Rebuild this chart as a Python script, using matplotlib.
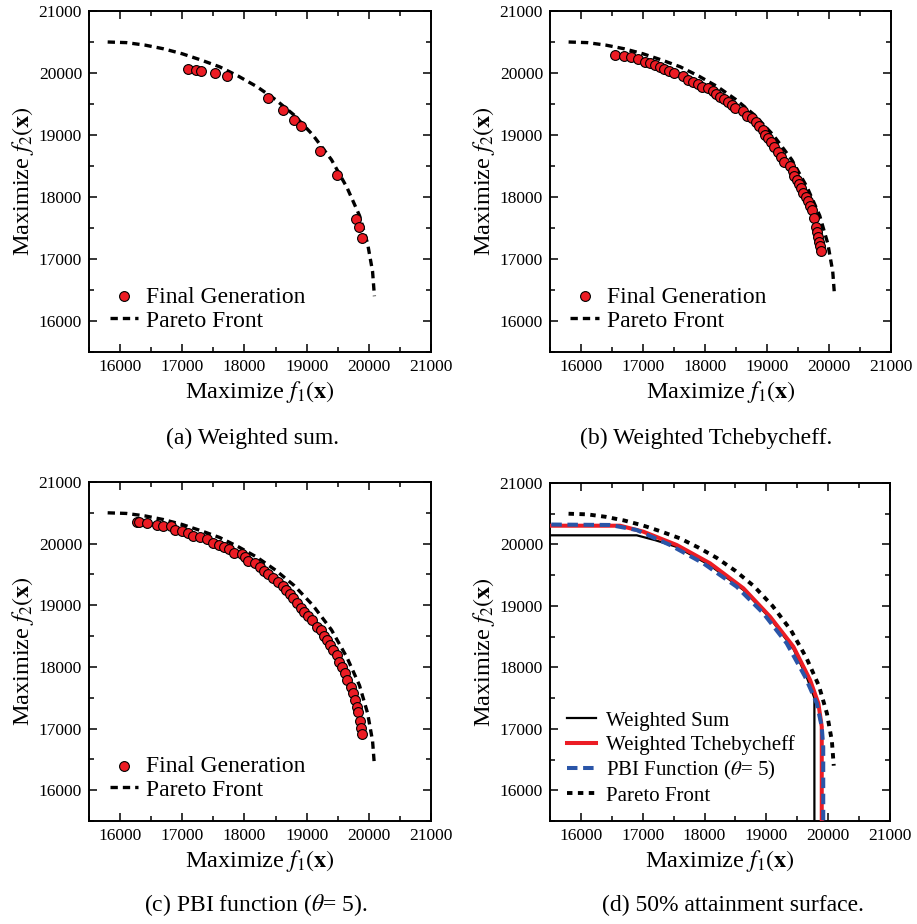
import matplotlib
matplotlib.use("Agg")
import matplotlib.pyplot as plt
from matplotlib.ticker import MultipleLocator

plt.rcParams['font.family'] = ['Liberation Serif', 'DejaVu Serif']
plt.rcParams['mathtext.fontset'] = 'stix'

# pareto front
pf_f1 = [15800, 16100, 16400, 16700, 17000, 17300, 17600, 17900, 18200, 18500,
         18800, 19100, 19400, 19650, 19850, 19980, 20060, 20090]
pf_f2 = [20500, 20490, 20450, 20390, 20310, 20210, 20100, 19950, 19780, 19570,
         19320, 19000, 18600, 18150, 17700, 17250, 16800, 16400]

# (a) weighted sum, final generation
ws_f1 = [17087, 17220, 17296, 17526, 17724, 18373, 18624, 18802, 18915, 19214,
         19483, 19789, 19837, 19885]
ws_f2 = [20060, 20043, 20037, 19995, 19957, 19592, 19403, 19242, 19145, 18747,
         18350, 17645, 17516, 17339]

# (b) weighted tchebycheff, final generation
tch_f1 = [16554, 16699, 16807, 16925, 17032, 17113, 17194, 17274, 17344, 17419,
          17495, 17650, 17731, 17801, 17882, 17947, 18043, 18134, 18178, 18242,
          18307, 18376, 18431, 18489, 18618, 18683, 18754, 18823, 18877, 18931,
          18968, 19022, 19065, 19118, 19183, 19226, 19280, 19371, 19415, 19441,
          19479, 19511, 19549, 19586, 19629, 19667, 19694, 19721, 19764, 19786,
          19802, 19828, 19844, 19855, 19876]
tch_f2 = [20285, 20274, 20253, 20226, 20182, 20156, 20124, 20092, 20064, 20032,
          20005, 19947, 19887, 19855, 19817, 19779, 19753, 19714, 19656, 19618,
          19580, 19527, 19484, 19430, 19386, 19306, 19268, 19204, 19145, 19080,
          19000, 18947, 18892, 18811, 18731, 18650, 18569, 18505, 18419, 18344,
          18274, 18205, 18140, 18069, 18005, 17935, 17860, 17790, 17666, 17521,
          17440, 17360, 17279, 17209, 17134]

# (c) PBI, final generation
pbi_f1 = [16267, 16304, 16426, 16587, 16695, 16819, 16883, 16990, 17097, 17178,
          17285, 17393, 17499, 17596, 17676, 17757, 17832, 17955, 18009, 18063,
          18170, 18250, 18314, 18384, 18464, 18544, 18615, 18668, 18732, 18786,
          18840, 18903, 18962, 19015, 19090, 19160, 19224, 19283, 19321, 19375,
          19428, 19483, 19525, 19574, 19616, 19653, 19708, 19751, 19778, 19805,
          19831, 19858, 19874, 19890]
pbi_f2 = [20346, 20346, 20330, 20303, 20292, 20286, 20221, 20205, 20168, 20129,
          20103, 20075, 20015, 19983, 19950, 19908, 19853, 19827, 19789, 19724,
          19681, 19616, 19556, 19503, 19438, 19373, 19318, 19248, 19178, 19113,
          19033, 18961, 18896, 18826, 18762, 18653, 18600, 18507, 18437, 18356,
          18275, 18194, 18085, 17994, 17897, 17789, 17680, 17573, 17464, 17356,
          17264, 17124, 17005, 16913]

# (d) 50% attainment surfaces
att_ws_f1 = [15000, 16903, 17200, 17550, 18089, 18628, 19060, 19437, 19650, 19777, 19777]
att_ws_f2 = [20149, 20149, 20070, 19960, 19660, 19260, 18800, 18300, 17850, 17500, 15000]
att_tch_f1 = [15000, 16633, 17010, 17550, 18089, 18628, 19060, 19437, 19707, 19841, 19896, 19896]
att_tch_f2 = [20305, 20305, 20208, 19991, 19693, 19287, 18825, 18337, 17795, 17416, 17035, 15000]
att_pbi_f1 = [15000, 16471, 16903, 17442, 17980, 18519, 18951, 19328, 19626, 19815, 19896, 19920, 19920]
att_pbi_f2 = [20328, 20317, 20235, 19991, 19693, 19313, 18880, 18392, 17849, 17416, 17035, 16700, 15000]

RED = '#ec1c24'
BLUE = '#2a55a8'
W, H = 917, 924

fig = plt.figure(figsize=(9.17, 9.24), dpi=100)

def make_ax(left, top, right, bottom):
    ax = fig.add_axes([left / W, 1 - bottom / H, (right - left) / W, (bottom - top) / H])
    ax.set_xlim(15500, 21000)
    ax.set_ylim(15500, 21000)
    ax.xaxis.set_major_locator(MultipleLocator(1000))
    ax.yaxis.set_major_locator(MultipleLocator(1000))
    ax.xaxis.set_minor_locator(MultipleLocator(500))
    ax.yaxis.set_minor_locator(MultipleLocator(500))
    ax.tick_params(which='both', direction='in', top=True, right=True, width=1.1, labelsize=12.5, pad=5)
    ax.tick_params(which='major', length=5.5)
    ax.tick_params(which='minor', length=3.5)
    for s in ax.spines.values():
        s.set_linewidth(1.4)
    ax.set_xlabel(r'Maximize $f_1(\mathbf{x})$', fontsize=17.5, labelpad=3)
    ax.set_ylabel(r'Maximize $f_2(\mathbf{x})$', fontsize=17.5, labelpad=2)
    return ax

ax_a = make_ax(89, 11, 431, 352)
ax_b = make_ax(550, 11, 891, 352)
ax_c = make_ax(89, 482, 431, 821)
ax_d = make_ax(550, 483, 890, 821)

pf_style = dict(color='black', lw=2.4, linestyle=(0, (2.2, 1.5)))

for ax, xs, ys in [(ax_a, ws_f1, ws_f2), (ax_b, tch_f1, tch_f2), (ax_c, pbi_f1, pbi_f2)]:
    ax.plot(pf_f1, pf_f2, label='Pareto Front', zorder=2, **pf_style)
    ax.scatter(xs, ys, s=50, c=RED, edgecolors='black', linewidths=0.8,
               label='Final Generation', zorder=3)
    h, l = ax.get_legend_handles_labels()
    ax.legend(h[::-1], l[::-1], loc='lower left', bbox_to_anchor=(0.06, 0.06),
              frameon=False, fontsize=17, handlelength=1.2, handletextpad=0.35,
              labelspacing=0.1, borderaxespad=0, borderpad=0)

ax_d.plot(att_ws_f1, att_ws_f2, color='black', lw=1.6, label='Weighted Sum', zorder=2)
ax_d.plot(att_tch_f1, att_tch_f2, color=RED, lw=2.9, label='Weighted Tchebycheff', zorder=3)
ax_d.plot(att_pbi_f1, att_pbi_f2, color=BLUE, lw=2.9, linestyle=(0, (2.6, 1.4)),
          label=r'PBI Function ($\theta$= 5)', zorder=4)
ax_d.plot(pf_f1, pf_f2, label='Pareto Front', zorder=2, color='black', lw=2.8,
          linestyle=(0, (1.4, 1.4)))
ax_d.legend(loc='lower left', bbox_to_anchor=(0.05, 0.045), frameon=False, fontsize=15,
            handlelength=1.4, handletextpad=0.45, labelspacing=0.2,
            borderaxespad=0, borderpad=0)

captions = [(252, 438, '(a) Weighted sum.'),
            (706, 438, '(b) Weighted Tchebycheff.'),
            (256, 905, r'(c) PBI function ($\theta$= 5).'),
            (733, 905, '(d) 50% attainment surface.')]
for cx, cy, txt in captions:
    fig.text(cx / W, 1 - cy / H, txt, ha='center', va='center', fontsize=17)

fig.savefig('out.png', dpi=100)
